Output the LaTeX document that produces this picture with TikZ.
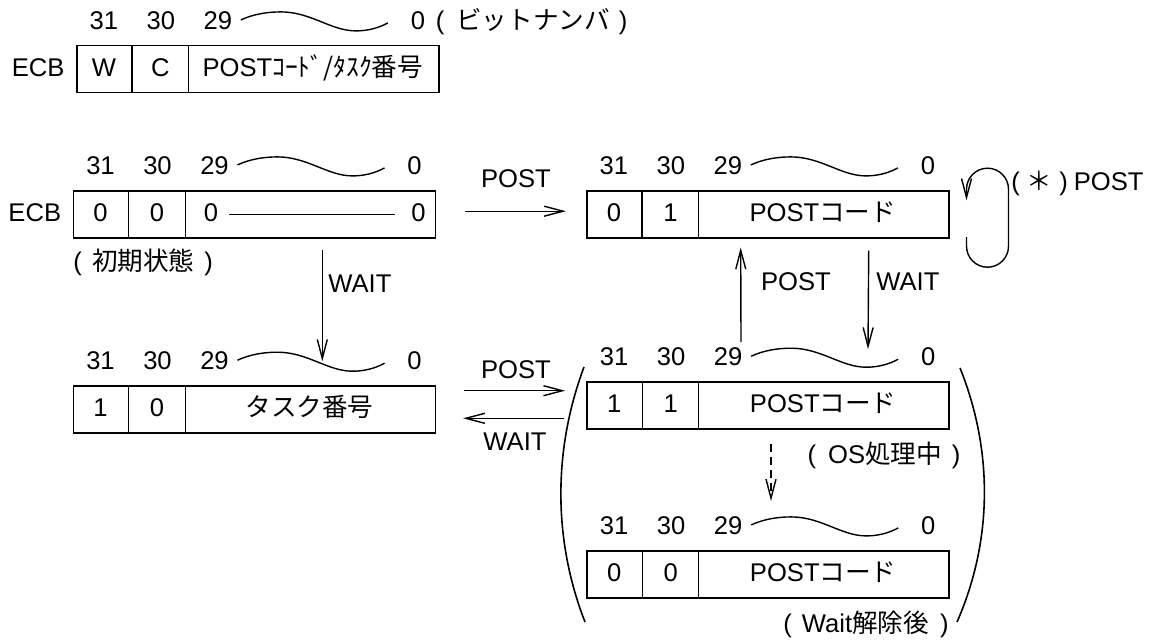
\documentclass[tikz,border=0pt]{standalone}
\usepackage{fontspec}
\setmainfont{Liberation Sans}
\newfontfamily\jp{Noto Sans CJK JP}
\usetikzlibrary{arrows.meta,calc}

\tikzset{
  lbl/.style={inner sep=0pt, text height=0.72em, text depth=0pt},
  regframe/.style={draw, line width=0.8pt, minimum width=181pt, minimum height=23.5pt, inner sep=0pt},
  divider/.style={line width=0.6pt},
  wave/.style={line width=0.7pt},
  arr/.style={line width=0.7pt, -{Straight Barb[length=9.5pt,width=5pt]}},
  dasharr/.style={arr, dash pattern=on 4pt off 2.5pt},
  paren/.style={line width=0.8pt}
}

\newcommand\regbox[6]{%
  \node[regframe] (#1) at ({#2+181},{#3+23.5}) {};
  \draw[divider] ($(#1.north west)+(56,0)$) -- ($(#1.south west)+(56,0)$);
  \draw[divider] ($(#1.north west)+(112.6,0)$) -- ($(#1.south west)+(112.6,0)$);
  \node[lbl] (#1-c1) at ($(#1.west)+(28,0)$) {#4};
  \node[lbl] (#1-c2) at ($(#1.west)+(84.5,0)$) {#5};
  \node[lbl] (#1-c3) at ($(#1.west)+(237,0)$) {#6};
  \node[lbl] (#1-b31) at ($(#1.north west)+(28,-23)$) {31};
  \node[lbl] (#1-b30) at ($(#1.north west)+(85,-23)$) {30};
  \node[lbl] (#1-b29) at ($(#1.north west)+(142,-23)$) {29};
  \node[lbl] (#1-b0) at ($(#1.north west)+(342,-23)$) {0};
  \draw[wave] ($(#1.north west)+(165,-25)$) .. controls +(13,-6) and +(-13,0) .. ++(40,-8)
     .. controls +(30,0) and +(-25,0) .. ++(75,19)
     .. controls +(12,0) and +(-9,5) .. ++(32,-8);
}

\begin{document}
\begin{tikzpicture}[x=0.5pt,y=-0.5pt,font=\fontsize{12.8pt}{15pt}\selectfont]
\useasboundingbox (0,0) rectangle (1160,642);

% top legend register
\regbox{R1}{76.7}{45.7}{W}{C}{POST{\jp ｺｰﾄﾞ/ﾀｽｸ番号}}
\node[lbl, anchor=west] (R1-bit) at ($(R1-b0.east)+(10,0)$) {(\hskip6pt{\jp ビットナンバ}\hskip4.5pt)};
\node[lbl, anchor=east] (R1-ecb) at ($(R1.west)+(-11,0)$) {ECB};

% initial state
\regbox{R2}{73.3}{190.7}{0}{0}{}
\node[lbl, anchor=east] (R2-ecb) at ($(R2.west)+(-11,0)$) {ECB};
\node[lbl] (R2-z1) at ($(R2.west)+(138.4,0)$) {0};
\node[lbl] (R2-z2) at ($(R2.west)+(346,0)$) {0};
\draw[wave, shorten <=5.5pt, shorten >=7.75pt] (R2-z1) -- (R2-z2);
\node[lbl] (R2-init) at ($(R2.south west)+(70.7,24.7)$) {(\hskip5pt{\jp 初期状態}\hskip5pt)};

% waiting state
\regbox{R3}{73.3}{386}{1}{0}{\jp タスク番号}

% posted state
\regbox{A}{586.7}{190.7}{0}{1}{POST{\jp コード}}

% bracketed states
\regbox{B}{587}{382}{1}{1}{POST{\jp コード}}
\regbox{C}{587}{550.7}{0}{0}{POST{\jp コード}}
\node[lbl] (B-os) at (884,456) {(\hskip6pt OS{\jp 処理中}\hskip5pt)};
\node[lbl] (C-wr) at (866,625) {(\hskip5pt Wait{\jp 解除後}\hskip5.5pt)};
\draw[paren] (584,367) .. controls (553,450) and (553,540) .. (585,622);
\draw[paren] (960,368) .. controls (993,450) and (993,540) .. (957,622);

% R2 -> A  POST
\draw[arr] ($(R2.east)+(29,-3)$) -- ($(A.west)+(-20,-3)$);
\node[lbl] (t-post1) at (516,180) {POST};

% R2 -> R3  WAIT
\draw[arr] ($(R2.south)+(68,11)$) -- ($(R3.north)+(68,-24)$);
\node[lbl, anchor=west] (t-wait1) at (328,285) {WAIT};

% R3 <-> B
\draw[arr] ($(R3.east)+(28,-18.8)$) -- ($(B.west)+(-21,-14.8)$);
\draw[arr] ($(B.west)+(-22.7,12.8)$) -- ($(R3.east)+(27,8.8)$);
\node[lbl] (t-post2) at (516,371) {POST};
\node[lbl] (t-wait2) at (515,443) {WAIT};

% B -> A POST (up), A -> B WAIT (down)
\draw[arr] ($(B.north)+(-27,-39)$) -- ($(A.south)+(-27,9)$);
\node[lbl] (t-post3) at (796,283) {POST};
\draw[arr] ($(A.south)+(101,12)$) -- ($(B.north)+(100,-32)$);
\node[lbl, anchor=west] (t-wait3) at (876,283) {WAIT};

% B -> C dashed
\draw[dasharr] ($(B.south)+(3,14)$) -- ($(C.north)+(3,-49)$);

% self loop on A
\draw[arr] ($(A.east)+(17,23)$) -- ++(0,9)
  .. controls +(0,11.6) and +(-11.6,0) .. ++(21,21)
  .. controls +(11.6,0) and +(0,11.6) .. ++(21,-21)
  -- ++(0,-57)
  .. controls +(0,-11.6) and +(11.6,0) .. ++(-21,-21)
  .. controls +(-11.6,0) and +(0,-11.6) .. ++(-21,21)
  -- ++(0,11);
\node[lbl, anchor=east] (t-star) at (1144,183) {(\hskip3.5pt{\jp ＊}\hskip3.5pt)\hskip3pt POST};
\end{tikzpicture}
\end{document}
